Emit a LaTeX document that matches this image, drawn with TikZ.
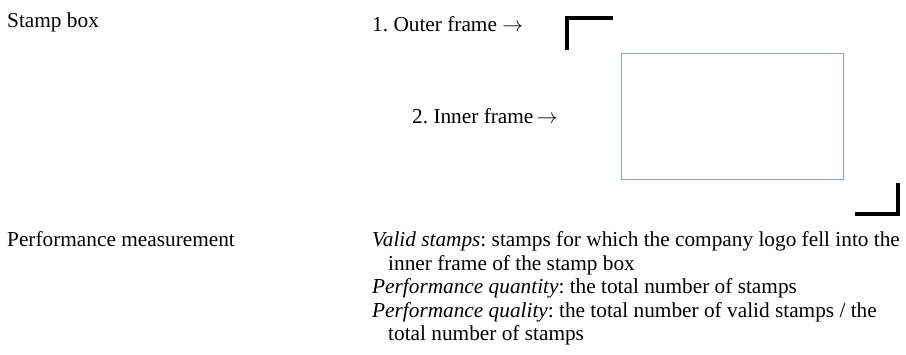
\documentclass[tikz,border=0pt]{standalone}
\usepackage{fontspec}
\setmainfont{Liberation Serif}
\usetikzlibrary{positioning}
\definecolor{frameblue}{RGB}{138,164,210}
\frenchspacing

\begin{document}
\begin{tikzpicture}[x=1pt,y=-1pt]
		\tikzstyle{txt}=[anchor=base west, inner sep=0pt, font=\fontsize{21.3}{23.4}\selectfont]
		\tikzstyle{corner}=[line width=4pt]
		\tikzstyle{innerbox}=[rectangle, draw=frameblue, line width=0.9pt, inner sep=0pt, minimum width=222pt, minimum height=126pt]
		\useasboundingbox (0,0) rectangle (906,355);
		
		% left column
		\node[txt] (stamp) at (7,28)  {Stamp box};
		\node[txt] (perf)  at (7,247) {Performance measurement};
		
		% stamp box
		\node[txt] (outerlbl) at (372,32)  {1. Outer frame $\rightarrow$};
		\node[txt] (innerlbl) at (412,124) {2. Inner frame$\,\rightarrow$};
		\node[innerbox] (inner) at (732,116) {};
		\draw[corner] (567,50) -- (567,18.5) -- (613,18.5);
		\draw[corner] (855,214) -- (898,214) -- (898,183);
		
		% definitions
		\node[txt] (valid)  at (372,247)   {\textit{Valid stamps}: stamps for which the company logo fell into the};
		\node[txt] (validb) at (388,270.4) {inner frame of the stamp box};
		\node[txt] (qty)    at (372,293.8) {\textit{Performance quantity}: the total number of stamps};
		\node[txt] (qual)   at (372,317.2) {\textit{Performance quality}: the total number of valid stamps / the};
		\node[txt] (qualb)  at (388,340.6) {total number of stamps};
		
		\end{tikzpicture}
\end{document}
